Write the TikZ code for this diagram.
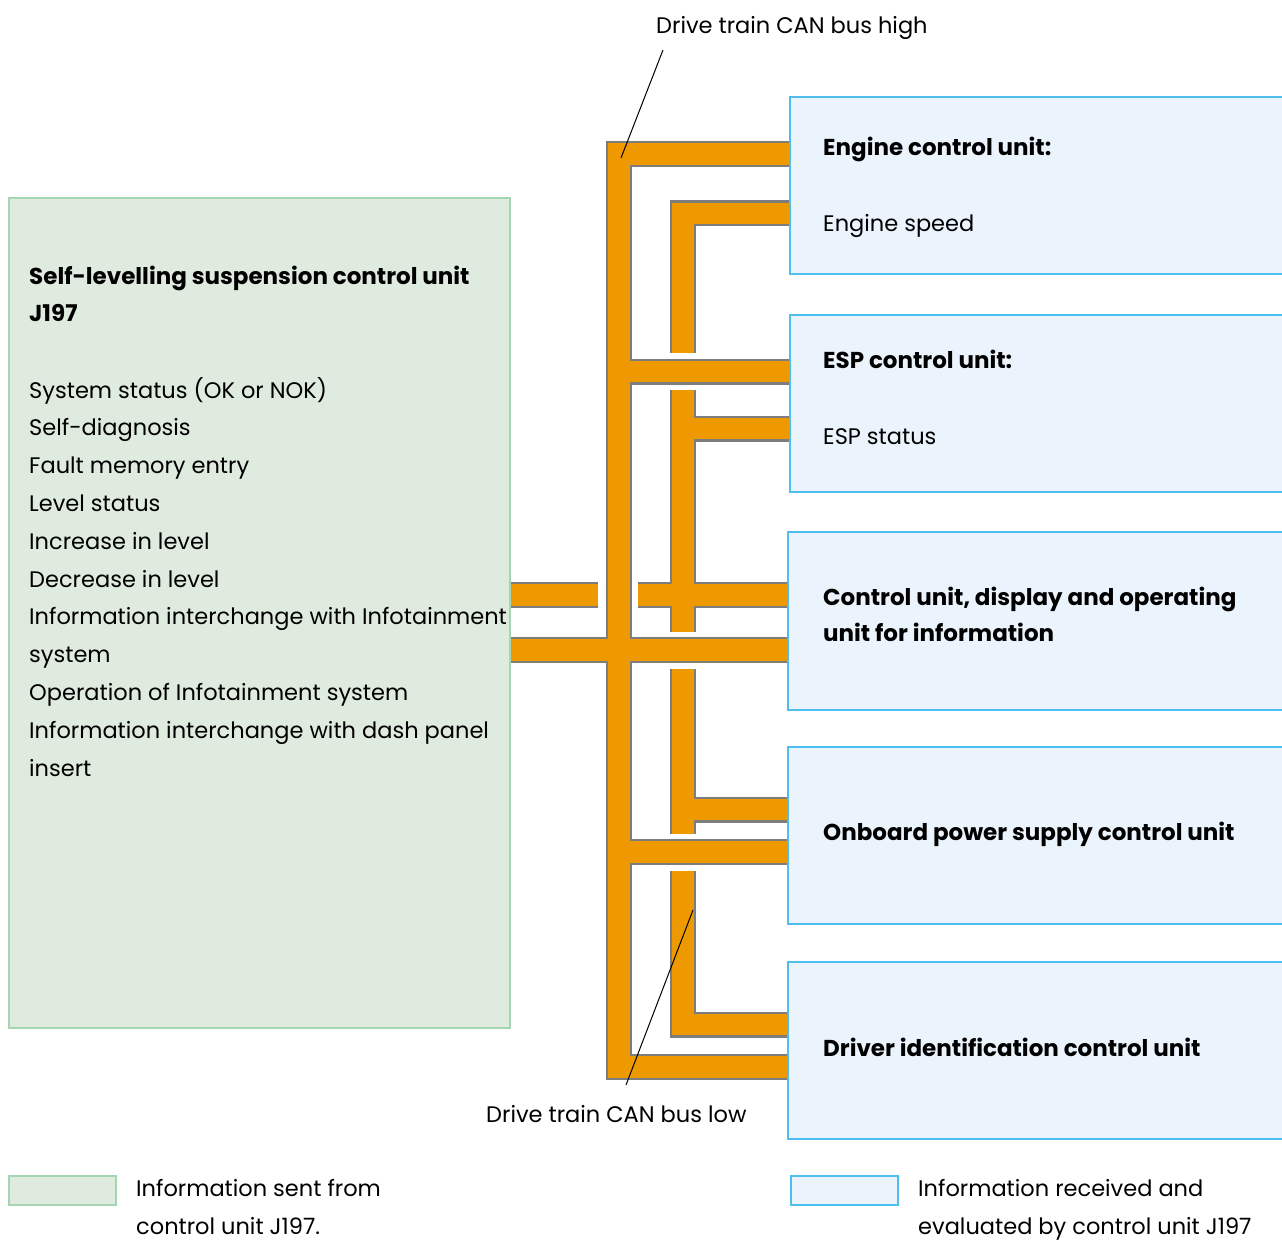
\documentclass[tikz,border=0pt]{standalone}
\usepackage{fontspec}
\setmainfont{Poppins}
\usetikzlibrary{calc}
\usetikzlibrary{positioning}

\definecolor{busorange}{RGB}{238,153,0}
\definecolor{busgrey}{RGB}{125,125,125}
\definecolor{sendfill}{RGB}{223,235,222}
\definecolor{senddraw}{RGB}{163,214,177}
\definecolor{recvfill}{RGB}{235,244,252}
\definecolor{recvdraw}{RGB}{77,190,238}

\tikzset{
  sendbox/.style={draw=senddraw, fill=sendfill, line width=2pt, anchor=north west, inner sep=0pt},
  recvbox/.style={draw=recvdraw, fill=recvfill, line width=2pt, anchor=north west, inner sep=0pt},
  busedge/.style={draw=busgrey, line width=26pt},
  busfill/.style={draw=busorange, line width=21.5pt},
  txt/.style={anchor=base west, inner sep=0pt, align=left, font=\fontsize{22.5}{37.8}\selectfont},
  head/.style={txt, font=\fontsize{23}{36.5}\selectfont\bfseries},
  leader/.style={draw=black, line width=1pt}
}

% both passes of the CAN wiring: grey edge first, orange core on top
\newcommand{\busrun}[1]{%
  % drive train CAN bus high
  \draw[#1] (ecu.west |- 0,154) -| (619,1067) -- (drv.west |- 0,1067);
  \draw[#1] (619,371.5) -- (esp.west |- 0,371.5);
  \draw[#1] (j197.east |- 0,650) -- (dsp.west |- 0,650);
  \draw[#1] (619,852) -- (obp.west |- 0,852);
  % drive train CAN bus low
  \draw[#1] (ecu.west |- 0,213.5) -| (683,353);
  \draw[#1] (683,390) -- (683,632);
  \draw[#1] (683,428.5) -- (esp.west |- 0,428.5);
  \draw[#1] (638,595) -- (dsp.west |- 0,595);
  \draw[#1] (j197.east |- 0,595) -- (598,595);
  \draw[#1] (683,669) -- (683,834);
  \draw[#1] (683,809.5) -- (obp.west |- 0,809.5);
  \draw[#1] (683,871) |- (drv.west |- 0,1024.5);
}

\begin{document}
\begin{tikzpicture}[x=1pt, y=-1pt]
\useasboundingbox (0,0) rectangle (1282,1241);

% control units
\node[sendbox, minimum width=501pt, minimum height=830pt] (j197) at (8,197) {};
\node[recvbox, minimum width=520pt, minimum height=177pt] (ecu) at (789,96) {};
\node[recvbox, minimum width=520pt, minimum height=177pt] (esp) at (789,314) {};
\node[recvbox, minimum width=520pt, minimum height=178pt] (dsp) at (787,531) {};
\node[recvbox, minimum width=520pt, minimum height=177pt] (obp) at (787,746) {};
\node[recvbox, minimum width=520pt, minimum height=177pt] (drv) at (787,961) {};

\busrun{busedge}
\busrun{busfill}

% texts of J197 (base = last line)
\node[head] (j197head) at (29,321.5) {Self-levelling suspension control unit\\J197};
\node[txt]  (j197list) at (29,776) {System status (OK or NOK)\\Self-diagnosis\\Fault memory entry\\Level status\\Increase in level\\Decrease in level\\Information interchange with Infotainment\\system\\Operation of Infotainment system\\Information interchange with dash panel\\insert};

% texts of the receiving units
\node[head] (ecuhead) at (823,155.5) {Engine control unit:};
\node[txt]  (ecusig)  at (823,231.5) {Engine speed};
\node[head] (esphead) at (823,368.5) {ESP control unit:};
\node[txt]  (espsig)  at (823,444.5) {ESP status};
\node[head] (dsphead) at (823,641.5) {Control unit, display and operating\\unit for information};
\node[head] (obphead) at (823,840.5) {Onboard power supply control unit};
\node[head] (drvhead) at (823,1056.5) {Driver identification control unit};

% bus labels
\node[txt] (canh) at (656,33.5) {Drive train CAN bus high};
\node[txt] (canl) at (486,1122.5) {Drive train CAN bus low};
\coordinate (canhfrom) at (663,50);
\coordinate (canhtip)  at (621,158);
\coordinate (canlfrom) at (626,1085);
\coordinate (canltip)  at (693,910);
\draw[leader] (canhfrom) -- (canhtip);
\draw[leader] (canlfrom) -- (canltip);

% legend
\node[sendbox, minimum width=107pt, minimum height=29pt] (keysend) at (8,1175) {};
\node[txt] (keysendtxt) at (136,1234.5) {Information sent from\\control unit J197.};
\node[recvbox, minimum width=107pt, minimum height=29pt] (keyrecv) at (790,1175) {};
\node[txt] (keyrecvtxt) at (918,1234.5) {Information received and\\evaluated by control unit J197};
\end{tikzpicture}
\end{document}
